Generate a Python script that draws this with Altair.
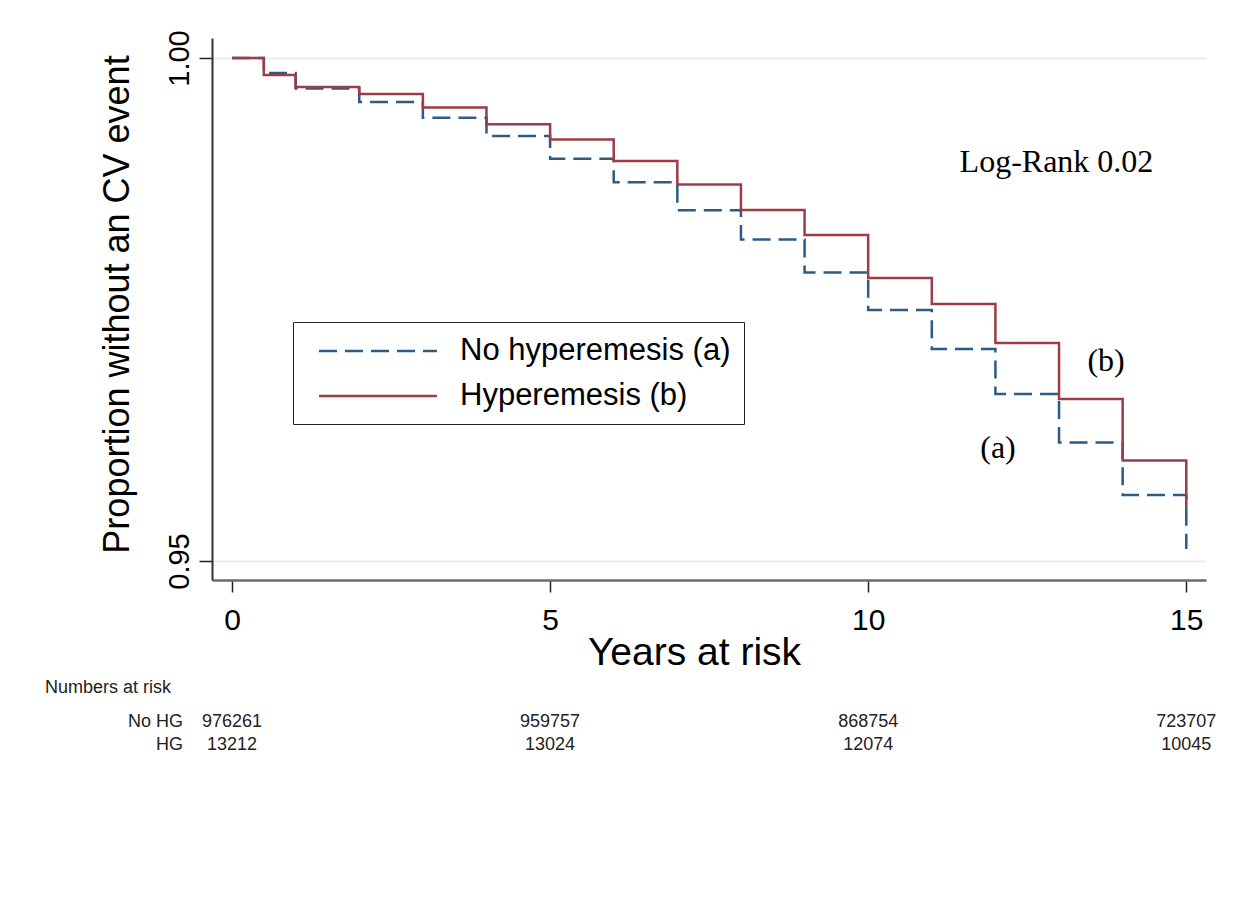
import altair as alt
import pandas as pd

# ---- data ----
times = [0, 0.5, 1, 2, 3, 4, 5, 6, 7, 8, 9, 10, 11, 12, 13, 14, 15]
no_hg = [1.0, 0.99851, 0.99697, 0.99563, 0.99407, 0.99225, 0.98999, 0.98764, 0.98487,
         0.98196, 0.97868, 0.97495, 0.97107, 0.96660, 0.96178, 0.95656, 0.95119]
hg = [1.0, 0.99831, 0.99712, 0.99642, 0.99508, 0.99341, 0.99190, 0.98976, 0.98743,
      0.98489, 0.98241, 0.97813, 0.97555, 0.97167, 0.96610, 0.95999, 0.95527]
groups = ["No hyperemesis (a)", "Hyperemesis (b)"]

risk_times = [0, 5, 10, 15]
risk_no_hg = ["976261", "959757", "868754", "723707"]
risk_hg = ["13212", "13024", "12074", "10045"]
risk_labels = ["No HG", "HG"]
risk_heading = ["Numbers at risk"]

annot_text = ["Log-Rank 0.02", "(b)", "(a)"]
annot_x = [12.96, 13.74, 12.04]
annot_y = [0.98966, 0.96988, 0.96123]

# ---- tables ----
curves = pd.DataFrame({
    "t": times * 2,
    "s": no_hg + hg,
    "group": [groups[0]] * len(times) + [groups[1]] * len(times),
})
risk = pd.DataFrame({"t": risk_times, "nohg": risk_no_hg, "hg": risk_hg})
heading = pd.DataFrame({"label": risk_heading})
row_lab1 = pd.DataFrame({"label": [risk_labels[0]]})
row_lab2 = pd.DataFrame({"label": [risk_labels[1]]})
annots = pd.DataFrame({"label": annot_text, "x": annot_x, "y": annot_y})

BLUE = "#2c5b85"
RED = "#9e3b45"
SANS = "Liberation Sans"
SERIF = "Liberation Serif"

xscale = alt.Scale(domain=[-0.3145, 15.31], nice=False, zero=False)
yscale = alt.Scale(domain=[0.94811, 1.00199], nice=False, zero=False)

# long horizontal stroke symbol: path spans 4x the nominal symbol size
legend = alt.Legend(
    title=None, orient="none", legendX=81, legendY=284,
    labelFont=SANS, labelFontSize=31, labelColor="black", labelLimit=600,
    symbolType="M-4,0H4", symbolSize=870, symbolStrokeWidth=2.5,
    strokeColor="#222222", fillColor="white", padding=13, rowPadding=14,
    labelOffset=66, symbolOffset=56,
)
color = alt.Color("group:N", scale=alt.Scale(domain=groups, range=[BLUE, RED]),
                  legend=legend, sort=groups)
dash = alt.StrokeDash("group:N", scale=alt.Scale(domain=groups, range=[[18, 8], [1, 0]]),
                      legend=legend, sort=groups)

xaxis = alt.Axis(
    values=[0, 5, 10, 15], format="d", title="Years at risk", grid=False,
    labelFont=SANS, labelFontSize=30, labelColor="black", labelPadding=13, labelFlush=False,
    tickSize=12, tickColor="#222222", tickWidth=1.5,
    domainColor="#6b6b6b", domainWidth=2.5,
    titleFont=SANS, titleFontSize=39, titleFontWeight="normal", titleColor="black",
    titleX=482, titleY=84, titleAlign="center", titleBaseline="alphabetic",
)
yaxis = alt.Axis(
    values=[0.95, 1.0], format=".2f", title="Proportion without an CV event",
    grid=True, gridColor="#e6eef1", gridWidth=2,
    labelFont=SANS, labelFontSize=29, labelColor="black", labelAngle=270,
    labelAlign="center", labelBaseline="alphabetic", labelPadding=11, labelFlush=False,
    tickSize=13, tickColor="#222222", tickWidth=1.5,
    domainColor="#333333", domainWidth=2,
    titleFont=SANS, titleFontSize=36, titleFontWeight="normal", titleColor="black",
    titleAngle=270, titleX=-84, titleY=266, titleAlign="center", titleBaseline="alphabetic",
)

base = alt.Chart(curves).mark_line(interpolate="step-after", strokeWidth=2.5).encode(
    x=alt.X("t:Q", scale=xscale, axis=xaxis),
    y=alt.Y("s:Q", scale=yscale, axis=yaxis),
    color=color,
    strokeDash=dash,
)
blue_line = base.transform_filter(alt.datum.group == groups[0])
red_line = base.transform_filter(alt.datum.group == groups[1])

annot_layer = alt.Chart(annots).mark_text(
    font=SERIF, fontSize=32, color="black", align="center", baseline="middle"
).encode(x=alt.X("x:Q", scale=xscale), y=alt.Y("y:Q", scale=yscale), text="label:N")

txt = dict(font=SANS, fontSize=18, color="#222222", fontWeight="normal", baseline="middle")

risk_title = alt.Chart(heading).mark_text(align="left", **txt).encode(
    x=alt.value(-167), y=alt.value(650), text="label:N")
row1_label = alt.Chart(row_lab1).mark_text(align="right", **txt).encode(
    x=alt.value(-29), y=alt.value(684), text="label:N")
row2_label = alt.Chart(row_lab2).mark_text(align="right", **txt).encode(
    x=alt.value(-29), y=alt.value(707), text="label:N")
row1 = alt.Chart(risk).mark_text(align="center", **txt).encode(
    x=alt.X("t:Q", scale=xscale), y=alt.value(684), text="nohg:N")
row2 = alt.Chart(risk).mark_text(align="center", **txt).encode(
    x=alt.X("t:Q", scale=xscale), y=alt.value(707), text="hg:N")

chart = alt.layer(
    blue_line, red_line, annot_layer, risk_title, row1_label, row2_label, row1, row2
).properties(
    width=994, height=542,
    autosize=alt.AutoSizeParams(type="none"),
    padding={"left": 204, "top": 30, "right": 42, "bottom": 321},
    background="white",
).configure_view(stroke=None)

chart.save("out.html", embed_options={"renderer": "svg", "actions": False})
